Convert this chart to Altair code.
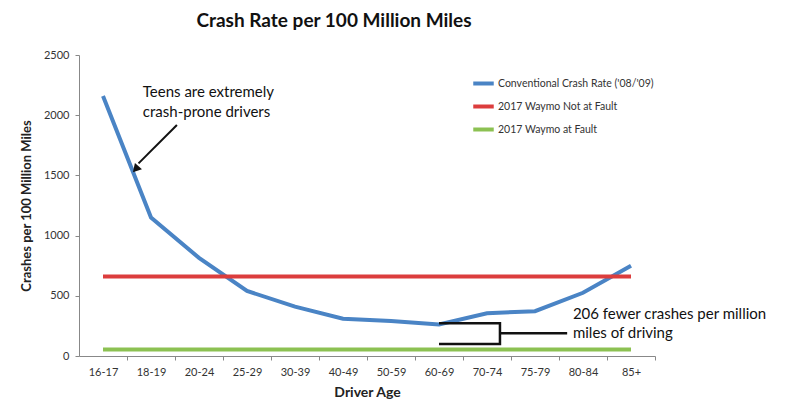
import altair as alt
import pandas as pd

ages = ["16-17", "18-19", "20-24", "25-29", "30-39", "40-49", "50-59",
        "60-69", "70-74", "75-79", "80-84", "85+"]
conventional = [2160, 1150, 815, 540, 410, 310, 290, 262, 355, 372, 525, 750]
waymo_not_at_fault = 660
waymo_at_fault = 55

series_names = ["Conventional Crash Rate ('08/'09)", "2017 Waymo Not at Fault", "2017 Waymo at Fault"]
series_colors = ["#4a84c5", "#dc3d3d", "#8cc152"]

rows = []
for i, v in enumerate(conventional):
    rows.append({"series": series_names[0], "idx": i, "value": v})
for i in (0, len(ages) - 1):
    rows.append({"series": series_names[1], "idx": i, "value": waymo_not_at_fault})
    rows.append({"series": series_names[2], "idx": i, "value": waymo_at_fault})
df = pd.DataFrame(rows)

label_expr = "[" + ",".join("'%s'" % a for a in ages) + "][datum.value]"

FONT = "Lato"

x_enc = alt.X("idx:Q", scale=alt.Scale(domain=[-0.5, 11.5], nice=False, zero=False),
              axis=alt.Axis(values=list(range(len(ages))), labelExpr=label_expr,
                            title="Driver Age", titleFont=FONT, titleFontSize=14,
                            titleFontWeight="bold", titleColor="#222", titlePadding=8,
                            labelFont=FONT, labelFontSize=11, labelColor="#333",
                            labelPadding=6, tickOffset=24, labelOffset=-24,
                            tickSize=4, tickColor="#888", domainColor="#888",
                            grid=False, labelFlush=False, labelOverlap=False))
y_enc = alt.Y("value:Q", scale=alt.Scale(domain=[0, 2500], nice=False),
              axis=alt.Axis(values=[0, 500, 1000, 1500, 2000, 2500], format="d",
                            title="Crashes per 100 Million Miles", titleFont=FONT,
                            titleFontSize=13, titleFontWeight="bold", titleColor="#222",
                            titlePadding=10,
                            labelFont=FONT, labelFontSize=11, labelColor="#333",
                            labelPadding=6, tickSize=4, tickColor="#888",
                            domainColor="#888", grid=False))

lines = alt.Chart(df).mark_line(strokeWidth=4).encode(
    x=x_enc,
    y=y_enc,
    color=alt.Color("series:N",
                    scale=alt.Scale(domain=series_names, range=series_colors),
                    sort=series_names,
                    legend=alt.Legend(title=None, orient="none", legendX=392, legendY=16,
                                      symbolType="stroke", symbolStrokeWidth=4,
                                      symbolSize=420, labelFont=FONT, labelFontSize=10.5,
                                      labelColor="#333", rowPadding=2, labelOffset=2,
                                      labelLimit=300)),
    detail="series:N",
)

# annotation texts
teen_text = pd.DataFrame({"idx": [0.83, 0.83], "value": [2192, 2026],
                          "t": ["Teens are extremely", "crash-prone drivers"]})
fewer_text = pd.DataFrame({"idx": [9.79, 9.79], "value": [352, 195],
                           "t": ["206 fewer crashes per million", "miles of driving"]})

teen = alt.Chart(teen_text).mark_text(align="left", baseline="middle", font=FONT,
                                      fontSize=15, color="#111").encode(
    x="idx:Q", y="value:Q", text="t:N")
fewer = alt.Chart(fewer_text).mark_text(align="left", baseline="middle", font=FONT,
                                        fontSize=15, color="#111").encode(
    x="idx:Q", y="value:Q", text="t:N")

# arrow
arrow_line = pd.DataFrame({"idx": [1.54, 0.74], "value": [1919, 1600]})
arrow_head = pd.DataFrame({"idx": [0.70], "value": [1560]})
arrow = alt.Chart(arrow_line).mark_line(color="#111", strokeWidth=2).encode(
    x="idx:Q", y="value:Q")
head = alt.Chart(arrow_head).mark_point(shape="triangle", filled=True, color="#111",
                                        size=90, angle=222, opacity=1).encode(
    x="idx:Q", y="value:Q")

# bracket
bracket_df = pd.DataFrame({
    "part": ["b", "b", "b", "b", "s", "s"],
    "o": [0, 1, 2, 3, 0, 1],
    "idx": [7.0, 8.27, 8.27, 7.0, 8.27, 9.67],
    "value": [272, 272, 100, 100, 188, 188],
})
bracket = alt.Chart(bracket_df).mark_line(color="#111", strokeWidth=2.5).encode(
    x="idx:Q", y="value:Q", detail="part:N", order="o:Q")

chart = alt.layer(lines, bracket, arrow, head, teen, fewer).properties(
    width=576, height=301,
    autosize=alt.AutoSizeParams(type="none"),
    padding={"left": 71, "top": 47, "right": 137, "bottom": 55},
    title=alt.TitleParams("Crash Rate per 100 Million Miles", font=FONT, fontSize=19,
                          fontWeight="bold", color="#111", anchor="middle", dx=-33,
                          offset=18),
    background="white",
).configure_view(stroke=None)

chart.save("out.html", embed_options={"renderer": "svg", "actions": False})
